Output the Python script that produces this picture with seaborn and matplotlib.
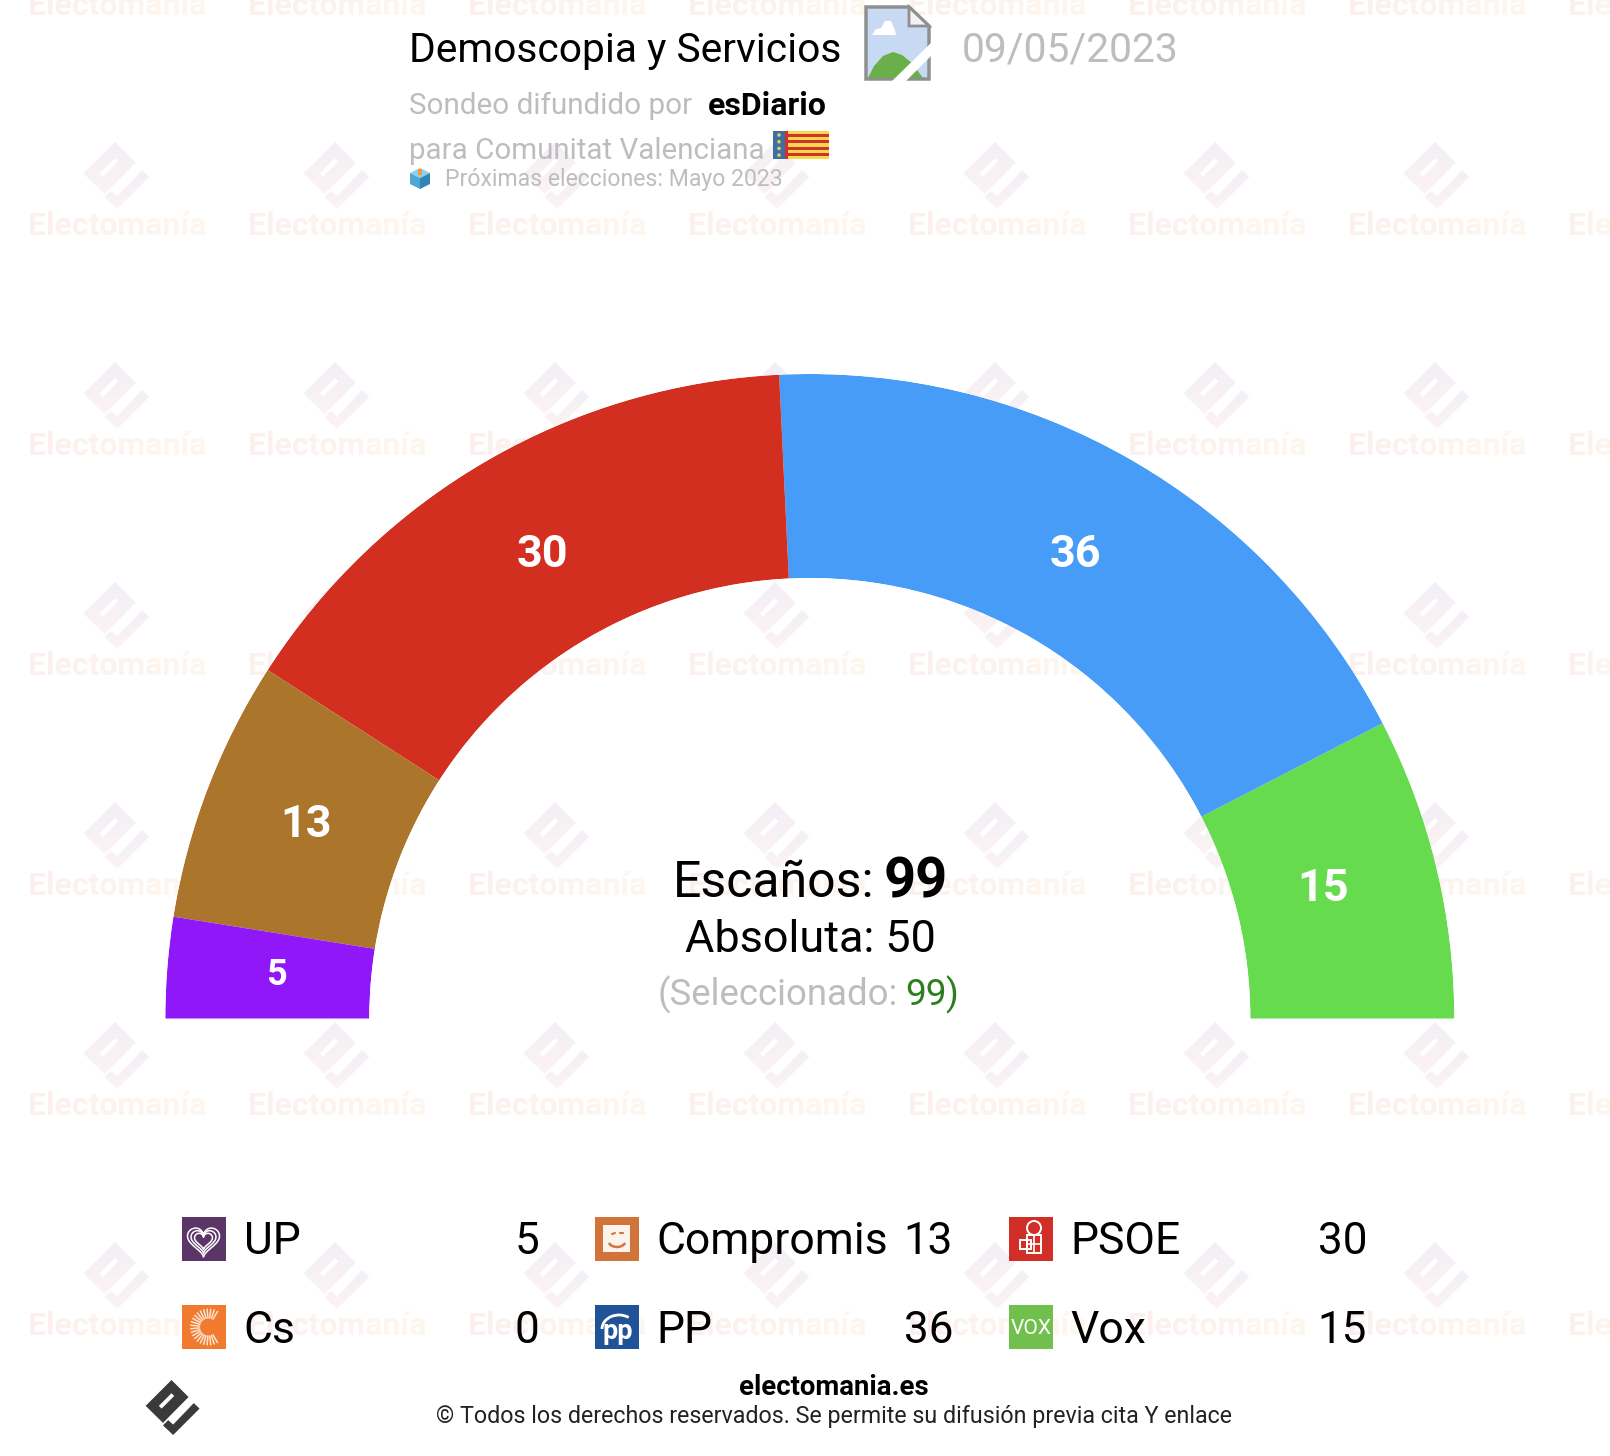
import numpy as np
import pandas as pd
import matplotlib
matplotlib.use('Agg')
import matplotlib.pyplot as plt
from matplotlib.patches import Polygon, Rectangle, Circle, Arc
from matplotlib.colors import to_rgb
import seaborn as sns

sns.set_theme(style='white')
plt.rcParams['font.family'] = ['Roboto', 'DejaVu Sans']

# data
parties = ['UP', 'Compromis', 'PSOE', 'Cs', 'PP', 'Vox']
seats = [5, 13, 30, 0, 36, 15]
arc_colors = ['#9018F8', '#AB762B', '#D32F20', '#999999', '#479CF8', '#66DB4E']
total_seats = 99
majority = 50
selected = 99

W, H = 1610, 1456
CX, CY = 809.8, 1018.5
R_OUT, R_IN = 644.5, 440.5


def pt(px):
    return px * 0.72


fig = plt.figure(figsize=(W / 100, H / 100), dpi=100, facecolor='white')

# pixel layers, y going down
ax_bg = fig.add_axes([0, 0, 1, 1], zorder=0)
ax_top = fig.add_axes([0, 0, 1, 1], zorder=2)
for a in (ax_bg, ax_top):
    a.set_xlim(0, W)
    a.set_ylim(H, 0)
    a.axis('off')


def h_gradient(c0, c1):
    c0, c1 = np.array(to_rgb(c0)), np.array(to_rgb(c1))

    def f(img, dpi):
        out = img.copy()
        t = np.linspace(0, 1, img.shape[1])[None, :, None]
        out[..., :3] = c0 + (c1 - c0) * t
        return out, 0, 0
    return f


def v_gradient(c0, c1):
    c0, c1 = np.array(to_rgb(c0)), np.array(to_rgb(c1))

    def f(img, dpi):
        out = img.copy()
        t = np.linspace(0, 1, img.shape[0])[:, None, None]
        out[..., :3] = c0 + (c1 - c0) * t
        return out, 0, 0
    return f


def logo(ax, cx, cy, size, color, agg=None):
    # two pieces of the electomania mark, unit square centred on 0
    main = [(0.0, -1.0), (0.62, -0.38), (-0.31, 0.56), (-0.94, -0.06)]
    slot = [(-0.46, -0.06), (0.0, -0.52), (0.1, -0.42), (-0.36, 0.04)]
    tail = [(0.81, -0.16), (1.02, 0.04), (0.06, 1.0), (-0.31, 0.65), (-0.12, 0.46), (0.06, 0.62)]
    s = size / 2
    for pts in (main, tail):
        p = Polygon([(cx + x * s, cy + y * s) for x, y in pts], fc=color, ec='none')
        if agg is not None:
            p.set_agg_filter(agg)
        ax.add_patch(p)
    ax.add_patch(Polygon([(cx + x * s, cy + y * s) for x, y in slot], fc='white', ec='none'))


# watermark
mark_grad = v_gradient('#f3eff8', '#fcf3f2')
text_grad = h_gradient('#fbf0ee', '#fef7ee')
for col in range(8):
    x = 116.5 + 220 * col
    for row in range(7):
        if row > 0:
            logo(ax_bg, x - 1.5, 175.5 + 220 * (row - 1), 67, '#f7f1f5', mark_grad)
        t = ax_bg.text(x + 0.5, 15 + 220 * row, 'Electomanía', fontsize=pt(32), fontweight='bold',
                       ha='center', va='baseline', color='#fcf3ee')
        t.set_agg_filter(text_grad)

# hemicycle: one histogram bin per party on a half polar axis
df = pd.DataFrame({'party': parties, 'seats': seats, 'color': arc_colors})
df = df[df['seats'] > 0].reset_index(drop=True)
edges = np.concatenate([[0], df['seats'].cumsum().values]) * np.pi / total_seats
df['theta'] = (edges[:-1] + edges[1:]) / 2
df['ring'] = 1

ax = fig.add_axes([(CX - R_OUT) / W, (H - CY - R_OUT) / H, 2 * R_OUT / W, 2 * R_OUT / H],
                  projection='polar', zorder=1)
sns.histplot(data=df, x='theta', weights='ring', hue='party', hue_order=list(df['party']),
             palette=list(df['color']), bins=list(edges), multiple='layer', alpha=1, linewidth=0,
             legend=False, ax=ax)
ax.set_theta_zero_location('W')
ax.set_theta_direction(-1)
ax.set_ylim(0, 1)
ax.set_rorigin(-R_IN / (R_OUT - R_IN))
ax.set_xlabel('')
ax.set_ylabel('')
ax.axis('off')

# small nudges in pixels, the labels do not sit quite in the band middle
nudge = {'UP': (2, 1), 'Compromis': (-2, 2), 'PSOE': (1, -2), 'PP': (-3, -2), 'Vox': (-9, 3)}
for _, r in df.iterrows():
    ax.annotate(str(r['seats']), xy=(r['theta'], 0.475), xytext=nudge[r['party']], textcoords='offset pixels',
                color='white', fontsize=pt(36) if r['seats'] < 10 else pt(45), fontweight='bold',
                ha='center', va='center')

# centre block
ax_top.text(673, 897, 'Escaños:', fontsize=pt(50), color='black', va='baseline')
ax_top.text(884, 897, str(total_seats), fontsize=pt(56), fontweight='bold', color='black', va='baseline')
ax_top.text(810, 952, f'Absoluta: {majority}', fontsize=pt(45), color='black', ha='center', va='baseline')
ax_top.text(658, 1005, '(Seleccionado:', fontsize=pt(36.6), color='#bdbdbd', va='baseline')
ax_top.text(905, 1005, str(selected), fontsize=pt(37), color='#2e7d1e', va='baseline')
ax_top.text(945, 1005, ')', fontsize=pt(37), color='#2e7d1e', va='baseline')

# header
ax_top.text(409, 62, 'Demoscopia y Servicios', fontsize=pt(40.7), color='black', va='baseline')
ax_top.text(962, 62, '09/05/2023', fontsize=pt(40.7), color='#bdbdbd', va='baseline')
ax_top.text(409, 114, 'Sondeo difundido por', fontsize=pt(29.6), color='#bdbdbd', va='baseline')
ax_top.text(708, 115, 'esDiario', fontsize=pt(32), fontweight='bold', color='black', va='baseline')
ax_top.text(409, 159, 'para Comunitat Valenciana', fontsize=pt(29.5), color='#bdbdbd', va='baseline')
ax_top.text(445, 186, 'Próximas elecciones: Mayo 2023', fontsize=pt(23), color='#bdbdbd', va='baseline')

# broken image icon
ax_top.add_patch(Polygon([(866, 7), (909, 7), (929, 26), (929, 79), (866, 79)], fc='#c8d9f3', ec='#8f8f8f', lw=2.5))
ax_top.add_patch(Polygon([(909, 7), (929, 26), (909, 26)], fc='#f2f2f2', ec='#8f8f8f', lw=2))
ax_top.add_patch(Polygon([(868, 78), (874, 66), (883, 56), (893, 52), (902, 55), (912, 63), (923, 78)], fc='#6aaf4a', ec='none'))
ax_top.add_patch(Polygon([(872, 35), (876, 29), (881, 28), (885, 21), (891, 21), (895, 30), (896, 35)], fc='white', ec='none'))
ax_top.add_patch(Polygon([(931, 43), (931, 56), (906, 81), (892, 81)], fc='white', ec='none'))

# flag
for i in range(9):
    ax_top.add_patch(Rectangle((785, 131 + i * 28 / 9), 44, 28 / 9, fc='#f5d94c' if i % 2 == 0 else '#d2322a', ec='none'))
ax_top.add_patch(Rectangle((773, 131), 12, 28, fc='#3b6fa8', ec='none'))
ax_top.add_patch(Rectangle((785, 131), 3, 28, fc='#d2322a', ec='none'))
for i in range(4):
    ax_top.add_patch(Circle((779, 135 + i * 6.7), 1.8, fc='#e8c94a', ec='none'))

# ballot box
ax_top.add_patch(Polygon([(410, 173), (420, 168), (430, 173), (420, 178)], fc='#90cfe8', ec='none'))
ax_top.add_patch(Polygon([(410, 173), (420, 178), (420, 189), (410, 184)], fc='#4fa6d2', ec='none'))
ax_top.add_patch(Polygon([(430, 173), (420, 178), (420, 189), (430, 184)], fc='#2f86b5', ec='none'))
ax_top.add_patch(Rectangle((418, 169), 4, 6, fc='#ee9a45', ec='none'))

# legend
icon_colors = {'UP': '#5a3566', 'Compromis': '#d1743a', 'PSOE': '#d02e26',
               'Cs': '#f07a2e', 'PP': '#1f5296', 'Vox': '#71bf4c'}
col_icon = [181.5, 595, 1009]
col_name = [243.5, 656.5, 1070]
col_value = [539.5, 953, 1367]
row_icon = [1217, 1305]
row_base = [1254, 1343]


def draw_glyph(name, x, y):
    cx, cy = x + 22, y + 22
    if name == 'UP':
        t = np.linspace(0, 2 * np.pi, 120)
        hx, hy = 16 * np.sin(t) ** 3, 13 * np.cos(t) - 5 * np.cos(2 * t) - 2 * np.cos(3 * t) - np.cos(4 * t)
        for k in (1.0, 0.78, 0.56):
            ax_top.plot(cx + k * hx, cy + 1 - k * hy, color='white', lw=1.1)
    elif name == 'Compromis':
        ax_top.add_patch(Rectangle((x + 8, y + 8), 27, 27, fc='#fbf3ec', ec='none'))
        ax_top.add_patch(Arc((cx, cy + 1), 18, 14, theta1=20, theta2=160, color='#d1743a', lw=1.8))
        ax_top.plot([cx - 5, cx - 2], [cy - 5, cy - 6], color='#d1743a', lw=1.5)
        ax_top.plot([cx + 3, cx + 6], [cy - 6, cy - 6], color='#d1743a', lw=1.5)
    elif name == 'PSOE':
        ax_top.add_patch(Circle((cx + 3, cy - 11), 7, fc='none', ec='white', lw=1.4))
        ax_top.add_patch(Rectangle((cx - 4, cy - 4), 14, 18, fc='none', ec='white', lw=1.4))
        ax_top.add_patch(Rectangle((cx - 11, cy + 1), 11, 9, fc='none', ec='white', lw=1.4))
        ax_top.plot([cx - 4, cx + 10], [cy + 5, cy + 5], color='white', lw=1.2)
        ax_top.plot([cx + 3, cx + 3], [cy - 4, cy + 14], color='white', lw=1.2)
    elif name == 'Cs':
        for a in np.linspace(60, 300, 22):
            r = np.deg2rad(a)
            ax_top.plot([cx + 5 + 9 * np.cos(r), cx + 5 + 18 * np.cos(r)],
                        [cy + 9 * np.sin(r), cy + 18 * np.sin(r)], color='#fde3cf', lw=1.1)
    elif name == 'PP':
        ax_top.text(cx + 1, cy + 12, 'pp', color='white', fontsize=pt(27), fontweight='bold', ha='center', va='baseline')
        ax_top.add_patch(Arc((cx + 2, cy + 2), 34, 28, theta1=180, theta2=310, color='white', lw=2))
    elif name == 'Vox':
        ax_top.text(cx, cy + 7, 'VOX', color='white', fontsize=pt(21), ha='center', va='baseline')


for i, (name, val) in enumerate(zip(parties, seats)):
    c, r = i % 3, i // 3
    ax_top.add_patch(Rectangle((col_icon[c], row_icon[r]), 44, 44, fc=icon_colors[name], ec='none'))
    draw_glyph(name, col_icon[c], row_icon[r])
    ax_top.text(col_name[c], row_base[r], name, fontsize=pt(44.5), color='black', va='baseline')
    ax_top.text(col_value[c], row_base[r], str(val), fontsize=pt(44), color='black', ha='right', va='baseline')

# footer
logo(ax_top, 171.5, 1407.5, 55, '#3a3a3a')
ax_top.text(834, 1395, 'electomania.es', fontsize=pt(27.5), fontweight='bold', color='black', ha='center', va='baseline')
ax_top.text(834, 1423, '© Todos los derechos reservados. Se permite su difusión previa cita Y enlace',
            fontsize=pt(23.2), color='#222222', ha='center', va='baseline')

fig.savefig('out.png', dpi=100, facecolor='white')
